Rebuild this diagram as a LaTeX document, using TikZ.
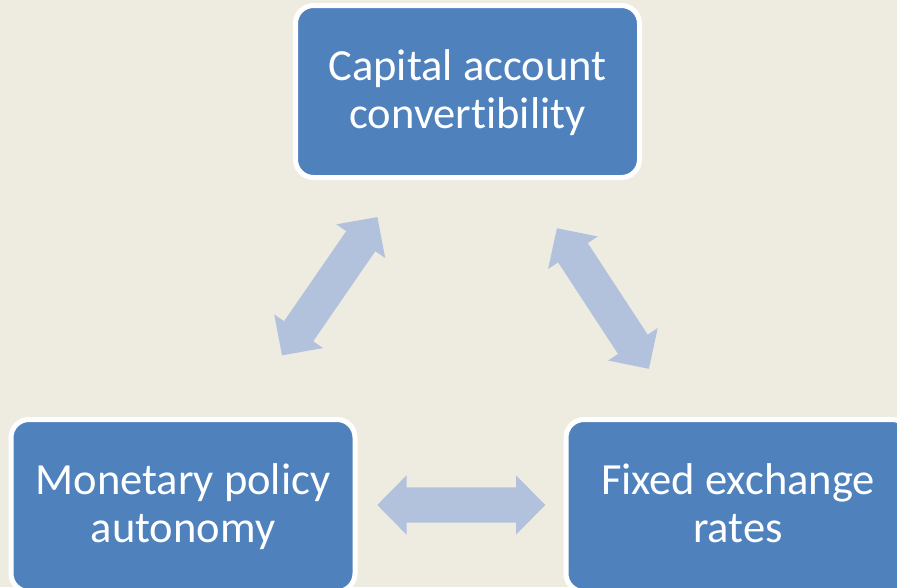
\documentclass[tikz,border=0pt]{standalone}
\usepackage{fontspec}
\setmainfont{Carlito}[Ligatures=NoCommon]
\definecolor{paper}{HTML}{EEECE1}
\definecolor{boxblue}{HTML}{4F81BD}
\definecolor{arrowblue}{HTML}{B2C2DD}
% fixed-size strut so every label sits on the same baselines
\newcommand\labelstrut{\rule[-8.6pt]{0pt}{36.7pt}}
\tikzset{
  trilemma/.style={
    draw=white, line width=3.75pt, fill=boxblue, rounded corners=13.5pt,
    minimum width=258pt, minimum height=129pt, inner sep=0pt,
    text=white, align=center,
    font=\fontsize{33.4pt}{36.7pt}\selectfont},
  pics/bidir/.style={
    code={
      \fill[arrowblue] (-84,0) -- (-54.7,29.7) -- (-54.7,17.7) -- (54.7,17.7)
        -- (54.7,29.7) -- (84,0) -- (54.7,-29.7) -- (54.7,-17.7)
        -- (-54.7,-17.7) -- (-54.7,-29.7) -- cycle;
    }}
}
\begin{document}
\begin{tikzpicture}[x=0.75pt,y=-0.75pt]
  \useasboundingbox (0,0) rectangle (897,587);
  \clip (0,0) rectangle (897,587);
  \fill[paper] (0,0) rectangle (897,587);

  % the three corners of the trilemma
  \node[trilemma] (cap) at (467.5,91.5)
    {\labelstrut Capital account\\\labelstrut convertibility};
  \node[trilemma] (mon) at (183,505.5)
    {\labelstrut Monetary policy\\\labelstrut autonomy};
  \node[trilemma] (fix) at (738,505.5)
    {\labelstrut Fixed exchange\\\labelstrut rates};

  % two-headed block arrows between the corners
  \pic[rotate=55.4] (capmon) at (329.7,286.2) {bidir};
  \pic[rotate=-56.8] (capfix) at (602.9,298.5) {bidir};
  \pic (monfix) at (461.3,505) {bidir};
\end{tikzpicture}
\end{document}
